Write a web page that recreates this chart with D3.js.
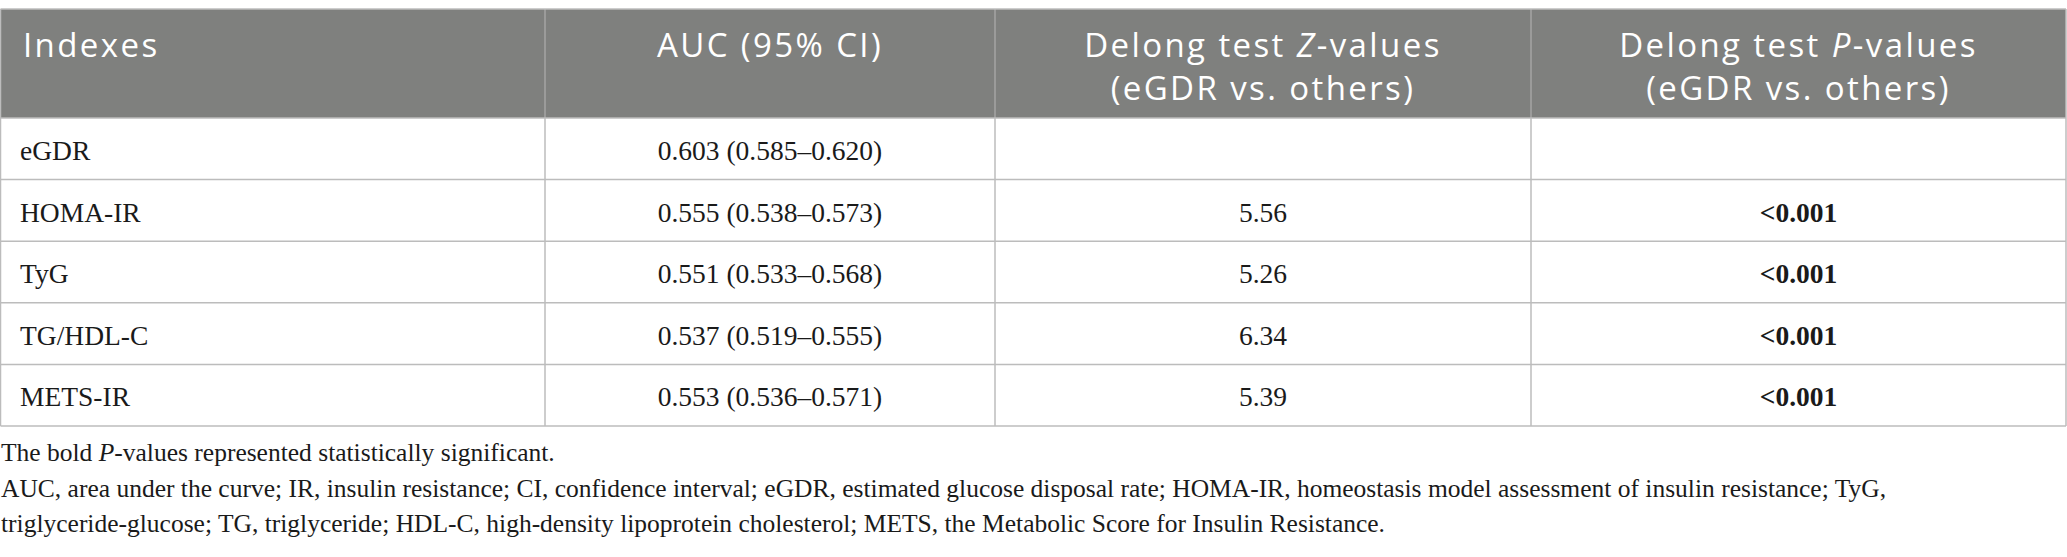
<!DOCTYPE html>
<html>
<head>
<meta charset="utf-8">
<script src="https://cdn.jsdelivr.net/npm/d3@7"></script>
<style>
  html, body { margin: 0; padding: 0; background: #ffffff; }
  svg { display: block; }
</style>
</head>
<body>
<svg id="chart" width="2067" height="557"></svg>
<script>
// ---- data ----
const indexes = ["eGDR", "HOMA-IR", "TyG", "TG/HDL-C", "METS-IR"];
const auc = ["0.603 (0.585\u20130.620)", "0.555 (0.538\u20130.573)", "0.551 (0.533\u20130.568)", "0.537 (0.519\u20130.555)", "0.553 (0.536\u20130.571)"];
const zValues = ["", "5.56", "5.26", "6.34", "5.39"];
const pValues = ["", "<0.001", "<0.001", "<0.001", "<0.001"];
const headers = [
  [[{t: "Indexes"}]],
  [[{t: "AUC (95% CI)"}]],
  [[{t: "Delong test "}, {t: "Z", i: true}, {t: "-values"}], [{t: "(eGDR vs. others)"}]],
  [[{t: "Delong test "}, {t: "P", i: true}, {t: "-values"}], [{t: "(eGDR vs. others)"}]]
];
const footnotes = [
  [{t: "The bold "}, {t: "P", i: true}, {t: "-values represented statistically significant."}],
  [{t: "AUC, area under the curve; IR, insulin resistance; CI, confidence interval; eGDR, estimated glucose disposal rate; HOMA-IR, homeostasis model assessment of insulin resistance; TyG,"}],
  [{t: "triglyceride-glucose; TG, triglyceride; HDL-C, high-density lipoprotein cholesterol; METS, the Metabolic Score for Insulin Resistance."}]
];

// ---- layout ----
const svg = d3.select("#chart");
const colEdges = [0.5, 545, 995, 1531, 2066];
const tableTop = 9, headerBottom = 118, tableBottom = 426;
const headerFill = "#7f807e";
const gridColor = "#bcbcbc";
const headFont = "'Open Sans', sans-serif";
const bodyFont = "'Liberation Serif', 'Times New Roman', serif";

const colScale = d3.scaleOrdinal().domain(d3.range(4)).range(d3.range(4).map(i => (colEdges[i] + colEdges[i + 1]) / 2));
const rowScale = d3.scaleBand().domain(indexes).range([headerBottom, tableBottom]);

// header background
svg.append("rect")
  .attr("x", colEdges[0]).attr("y", tableTop)
  .attr("width", colEdges[4] - colEdges[0]).attr("height", headerBottom - tableTop)
  .attr("fill", headerFill);

// header vertical separators
svg.selectAll("line.hsep").data(colEdges.slice(1, 4)).join("line")
  .attr("x1", d => d).attr("x2", d => d)
  .attr("y1", tableTop).attr("y2", headerBottom)
  .attr("stroke", "#a4a4a4").attr("stroke-width", 1.5);

// body vertical lines
svg.selectAll("line.bsep").data(colEdges).join("line")
  .attr("x1", d => d).attr("x2", d => d)
  .attr("y1", headerBottom).attr("y2", tableBottom)
  .attr("stroke", gridColor).attr("stroke-width", 1.5);

// horizontal lines
const hLines = [tableTop, headerBottom].concat(indexes.map(d => rowScale(d) + rowScale.bandwidth()));
svg.selectAll("line.hl").data(hLines).join("line")
  .attr("x1", colEdges[0]).attr("x2", colEdges[4])
  .attr("y1", d => d).attr("y2", d => d)
  .attr("stroke", gridColor).attr("stroke-width", 1.5);

[colEdges[0], colEdges[4]].forEach(x => {
  svg.append("line").attr("x1", x).attr("x2", x).attr("y1", tableTop).attr("y2", headerBottom)
    .attr("stroke", gridColor).attr("stroke-width", 1.5);
});

function addRuns(textSel, runs) {
  runs.forEach(r => {
    textSel.append("tspan").text(r.t).attr("font-style", r.i ? "italic" : null);
  });
}

// header texts
const headBaselines = [57, 99.5];
headers.forEach((lines, ci) => {
  lines.forEach((runs, li) => {
    const t = svg.append("text")
      .attr("x", ci === 0 ? 23 : colScale(ci))
      .attr("y", headBaselines[li])
      .attr("text-anchor", ci === 0 ? "start" : "middle")
      .attr("font-family", headFont)
      .attr("font-size", 33)
      .attr("letter-spacing", 2.4)
      .attr("fill", "#ffffff");
    addRuns(t, runs);
  });
});

// body rows
const baselineOffset = 42;
const rowsData = indexes.map((d, i) => ({name: d, auc: auc[i], z: zValues[i], p: pValues[i]}));
const g = svg.append("g").attr("font-family", bodyFont).attr("font-size", 27.5).attr("fill", "#1a1a1a");
g.selectAll("text.c0").data(rowsData).join("text")
  .attr("x", 20).attr("y", d => rowScale(d.name) + baselineOffset)
  .text(d => d.name);
g.selectAll("text.c1").data(rowsData).join("text")
  .attr("x", colScale(1)).attr("y", d => rowScale(d.name) + baselineOffset)
  .attr("text-anchor", "middle").text(d => d.auc);
g.selectAll("text.c2").data(rowsData).join("text")
  .attr("x", colScale(2)).attr("y", d => rowScale(d.name) + baselineOffset)
  .attr("text-anchor", "middle").text(d => d.z);
g.selectAll("text.c3").data(rowsData).join("text")
  .attr("x", colScale(3)).attr("y", d => rowScale(d.name) + baselineOffset)
  .attr("text-anchor", "middle").attr("font-weight", "bold").text(d => d.p);

// footnotes
const footBaselines = [461, 497, 532];
footnotes.forEach((runs, i) => {
  const t = svg.append("text")
    .attr("x", 1).attr("y", footBaselines[i])
    .attr("font-family", bodyFont).attr("font-size", 25.5).attr("fill", "#1a1a1a");
  addRuns(t, runs);
});
</script>
</body>
</html>
